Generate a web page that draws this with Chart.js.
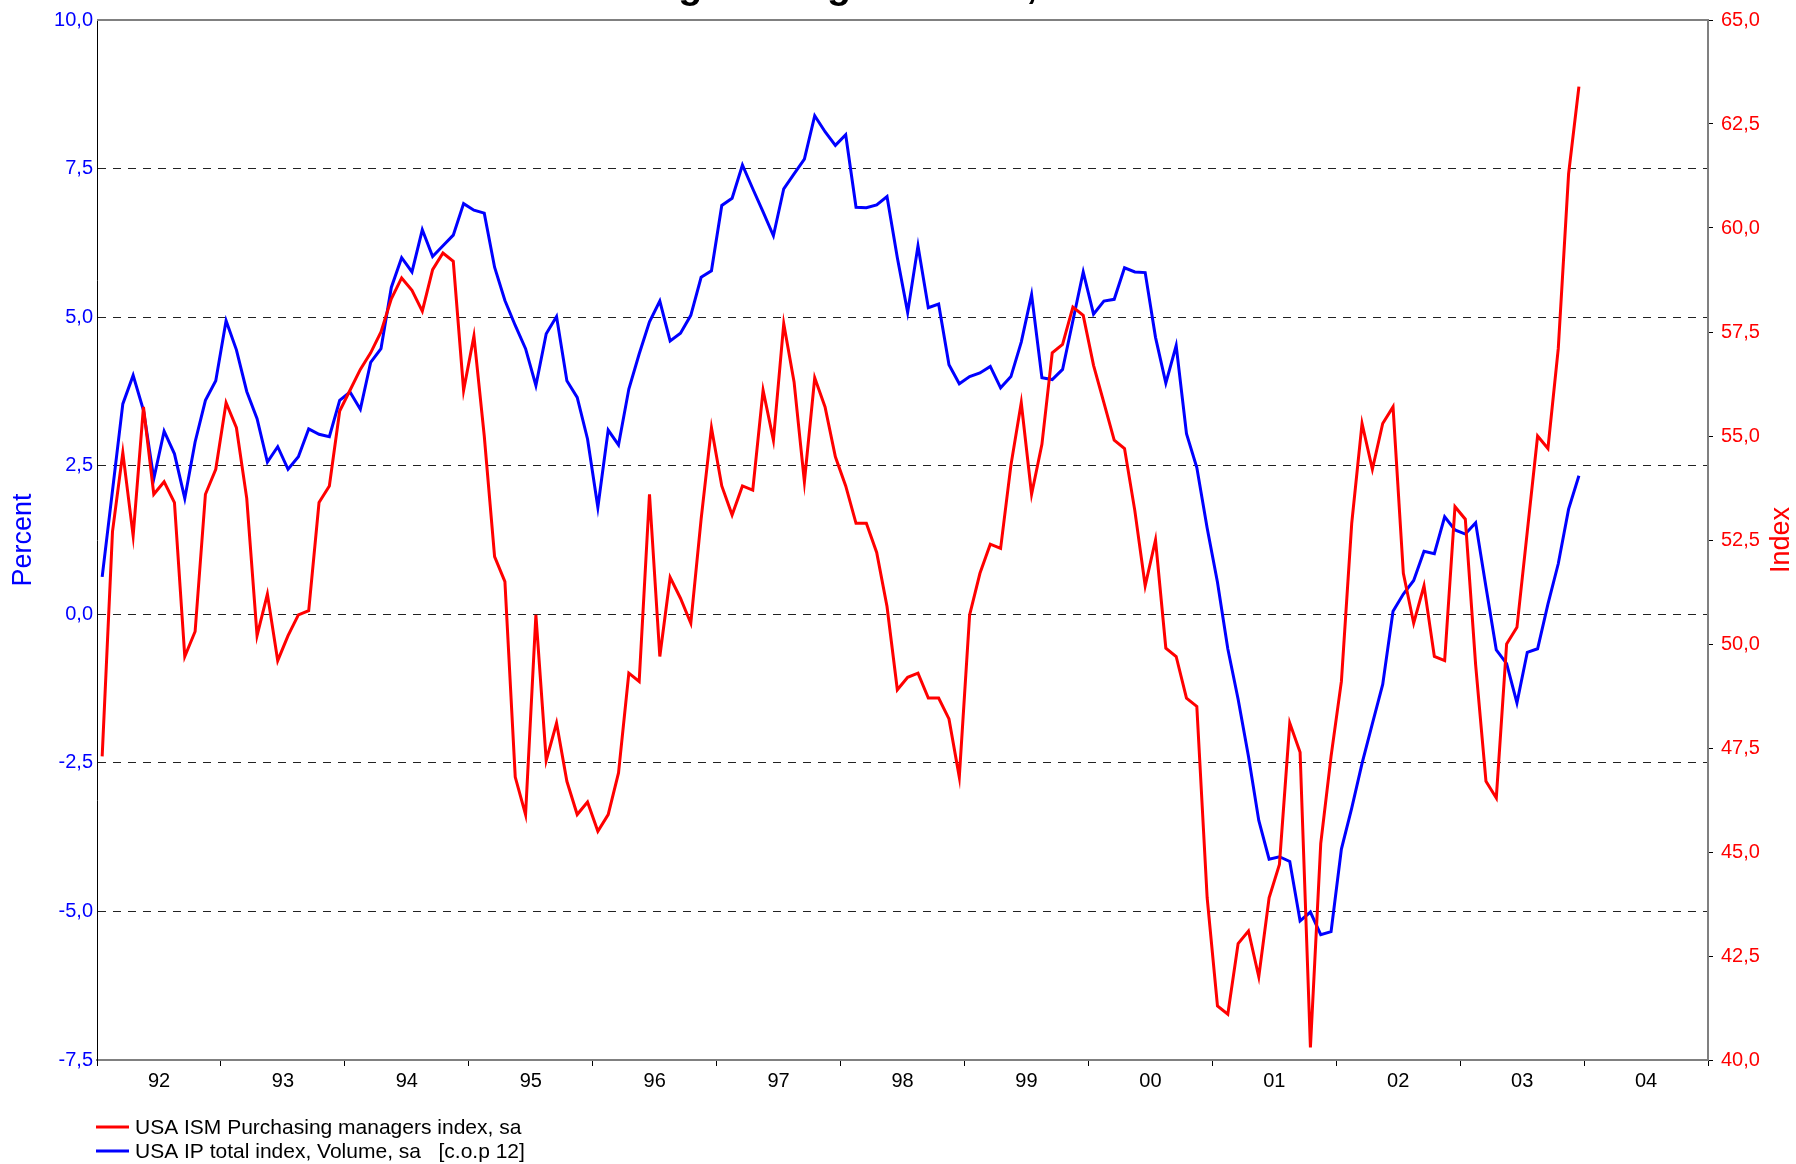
<!DOCTYPE html>
<html>
<head>
<meta charset="utf-8">
<script src="https://cdn.jsdelivr.net/npm/chart.js@4/dist/chart.umd.min.js"></script>
<style>
html,body{margin:0;padding:0;background:#fff;}
#wrap{width:1796px;height:1164px;}
</style>
</head>
<body>
<div id="wrap"><canvas id="c" width="1796" height="1164"></canvas></div>
<script>
// ---- data ----
const chartTitle = 'Manufacturing leading indicator, USA';
const yearLabels = ['92','93','94','95','96','97','98','99','00','01','02','03','04'];
const monthsPerYear = 12;
const ismLabel = 'USA ISM Purchasing managers index, sa';
const ipLabel = 'USA IP total index, Volume, sa   [c.o.p 12]';
const leftTitle = 'Percent';
const rightTitle = 'Index';

// USA ISM PMI, Jan 1992 - Dec 2003
const ism = [
  47.3, 52.7, 54.6, 52.6, 55.7, 53.6, 53.9, 53.4, 49.7, 50.3, 53.6, 54.2,
  55.8, 55.2, 53.5, 50.2, 51.2, 49.6, 50.2, 50.7, 50.8, 53.4, 53.8, 55.6,
  56.1, 56.6, 57.0, 57.5, 58.3, 58.8, 58.5, 58.0, 59.0, 59.4, 59.2, 56.1,
  57.4, 55.0, 52.1, 51.5, 46.8, 45.9, 50.7, 47.2, 48.1, 46.7, 45.9, 46.2,
  45.5, 45.9, 46.9, 49.3, 49.1, 53.6, 49.7, 51.6, 51.1, 50.5, 53.0, 55.2,
  53.8, 53.1, 53.8, 53.7, 56.1, 54.9, 57.7, 56.3, 53.9, 56.4, 55.7, 54.5,
  53.8, 52.9, 52.9, 52.2, 50.9, 48.9, 49.2, 49.3, 48.7, 48.7, 48.2, 46.8,
  50.7, 51.7, 52.4, 52.3, 54.3, 55.8, 53.6, 54.8, 57.0, 57.2, 58.1, 57.9,
  56.7, 55.8, 54.9, 54.7, 53.2, 51.4, 52.5, 49.9, 49.7, 48.7, 48.5, 43.9,
  41.3, 41.1, 42.8, 43.1, 42.0, 43.9, 44.7, 48.1, 47.4, 40.3, 45.2, 47.3,
  49.1, 52.9, 55.3, 54.2, 55.3, 55.7, 51.7, 50.5, 51.4, 49.7, 49.6, 53.3,
  53.0, 49.5, 46.7, 46.3, 50.0, 50.4, 52.7, 55.0, 54.7, 57.1, 61.3, 63.4
];
// USA industrial production, % change over 12 months, Jan 1992 - Dec 2003
const ip = [
  0.63, 2.08, 3.54, 4.02, 3.43, 2.28, 3.08, 2.70, 1.95, 2.90, 3.60, 3.93,
  4.94, 4.45, 3.75, 3.29, 2.56, 2.82, 2.44, 2.65, 3.12, 3.03, 2.99, 3.60,
  3.74, 3.45, 4.24, 4.47, 5.50, 6.00, 5.76, 6.47, 6.02, 6.20, 6.38, 6.91,
  6.80, 6.75, 5.84, 5.28, 4.86, 4.47, 3.85, 4.72, 5.01, 3.93, 3.65, 2.95,
  1.80, 3.10, 2.85, 3.79, 4.38, 4.92, 5.27, 4.60, 4.73, 5.03, 5.67, 5.78,
  6.88, 7.00, 7.56, 7.16, 6.77, 6.37, 7.16, 7.41, 7.66, 8.39, 8.12, 7.89,
  8.07, 6.85, 6.84, 6.89, 7.03, 6.00, 5.08, 6.20, 5.16, 5.22, 4.20, 3.88,
  4.00, 4.06, 4.17, 3.81, 4.00, 4.58, 5.38, 3.98, 3.95, 4.12, 4.94, 5.76,
  5.05, 5.27, 5.30, 5.83, 5.76, 5.75, 4.66, 3.89, 4.52, 3.04, 2.47, 1.45,
  0.54, -0.58, -1.43, -2.39, -3.47, -4.12, -4.08, -4.16, -5.16, -5.01, -5.39, -5.34,
  -3.95, -3.26, -2.51, -1.84, -1.18, 0.05, 0.34, 0.57, 1.06, 1.02, 1.64, 1.42,
  1.35, 1.54, 0.46, -0.60, -0.83, -1.49, -0.64, -0.58, 0.17, 0.85, 1.77, 2.33
];
const leftTicks = [-7.5, -5, -2.5, 0, 2.5, 5, 7.5, 10];
const rightTicks = [40, 42.5, 45, 47.5, 50, 52.5, 55, 57.5, 60, 62.5, 65];

// ---- chart ----
const FONT = "'Liberation Sans', Arial, Helvetica, sans-serif";
Chart.defaults.font.family = FONT;
const RED = '#ff0000', BLUE = '#0000ff';
const fmt = v => Number(v).toFixed(1).replace('.', ',');
const toPoints = arr => arr.map((v, i) => ({x: i + 0.5, y: v}));
const totalMonths = yearLabels.length * monthsPerYear;

const decor = {
  id: 'decor',
  afterDraw(chart) {
    const ctx = chart.ctx;
    const ca = chart.chartArea;
    ctx.save();
    // top frame line
    ctx.strokeStyle = '#808080';
    ctx.lineWidth = 2;
    ctx.beginPath();
    ctx.moveTo(ca.left, ca.top);
    ctx.lineTo(ca.right, ca.top);
    ctx.stroke();
    // clipped title (only descenders visible)
    ctx.fillStyle = '#000';
    ctx.font = "bold 39.4px " + FONT;
    ctx.textAlign = 'left';
    ctx.textBaseline = 'alphabetic';
    ctx.fillText(chartTitle, 431, -2);
    // right axis title, reading bottom to top
    ctx.save();
    ctx.translate(1782, (ca.top + ca.bottom) / 2);
    ctx.rotate(-Math.PI / 2);
    ctx.fillStyle = RED;
    ctx.font = "27px " + FONT;
    ctx.textAlign = 'center';
    ctx.textBaseline = 'middle';
    ctx.fillText(rightTitle, 0, 0);
    ctx.restore();
    // legend
    ctx.font = "21px " + FONT;
    ctx.textAlign = 'left';
    ctx.textBaseline = 'middle';
    chart.data.datasets.forEach((ds, k) => {
      const y = 1127 + k * 24;
      ctx.strokeStyle = ds.borderColor;
      ctx.lineWidth = 3;
      ctx.beginPath();
      ctx.moveTo(96, y);
      ctx.lineTo(129, y);
      ctx.stroke();
      ctx.fillStyle = '#000';
      ctx.fillText(ds.label, 135, y + 1);
    });
    ctx.restore();
  }
};

new Chart(document.getElementById('c'), {
  type: 'line',
  data: {
    datasets: [
      {label: ismLabel, data: toPoints(ism), yAxisID: 'y1', borderColor: RED, backgroundColor: RED,
       borderWidth: 3, pointRadius: 0, tension: 0, fill: false},
      {label: ipLabel, data: toPoints(ip), yAxisID: 'y', borderColor: BLUE, backgroundColor: BLUE,
       borderWidth: 3, pointRadius: 0, tension: 0, fill: false}
    ]
  },
  options: {
    responsive: false,
    animation: false,
    events: [],
    layout: {padding: {top: 19, left: 0, right: 0, bottom: 0}},
    plugins: {legend: {display: false}, tooltip: {enabled: false}, title: {display: false}},
    scales: {
      x: {
        type: 'linear', position: 'bottom', min: 0, max: totalMonths,
        afterBuildTicks: s => { s.ticks = yearLabels.map((_, i) => ({value: i * monthsPerYear})).concat([{value: totalMonths}]); },
        ticks: {
          autoSkip: false, maxRotation: 0, minRotation: 0,
          labelOffset: 62, padding: 3, color: '#000', font: {size: 20},
          callback: v => yearLabels[Math.round(v / monthsPerYear)] || ''
        },
        grid: {drawOnChartArea: false, drawTicks: true, tickLength: 6, color: '#000', lineWidth: 1},
        border: {color: '#808080', width: 2},
        afterFit: s => { s.height = 104; }
      },
      y: {
        type: 'linear', position: 'left', min: -7.5, max: 10,
        afterBuildTicks: s => { s.ticks = leftTicks.map(v => ({value: v})); },
        ticks: {color: BLUE, font: {size: 20}, padding: 4, callback: v => fmt(v)},
        grid: {
          drawTicks: false, lineWidth: 1,
          color: c => (c.tick && (c.tick.value === 10 || c.tick.value === -7.5)) ? 'rgba(0,0,0,0)' : '#222'
        },
        border: {color: '#000', width: 1, dash: [8, 7]},
        title: {display: true, text: leftTitle, color: BLUE, font: {size: 27}, padding: {top: 7, bottom: 0}},
        afterFit: s => { s.width = 97; }
      },
      y1: {
        type: 'linear', position: 'right', min: 40, max: 65,
        afterBuildTicks: s => { s.ticks = rightTicks.map(v => ({value: v})); },
        ticks: {color: RED, font: {size: 20}, padding: 8, callback: v => fmt(v)},
        grid: {drawOnChartArea: false, drawTicks: true, tickLength: 5, color: '#000', lineWidth: 1},
        border: {color: '#808080', width: 2},
        afterFit: s => { s.width = 88; }
      }
    }
  },
  plugins: [decor]
});
</script>
</body>
</html>
